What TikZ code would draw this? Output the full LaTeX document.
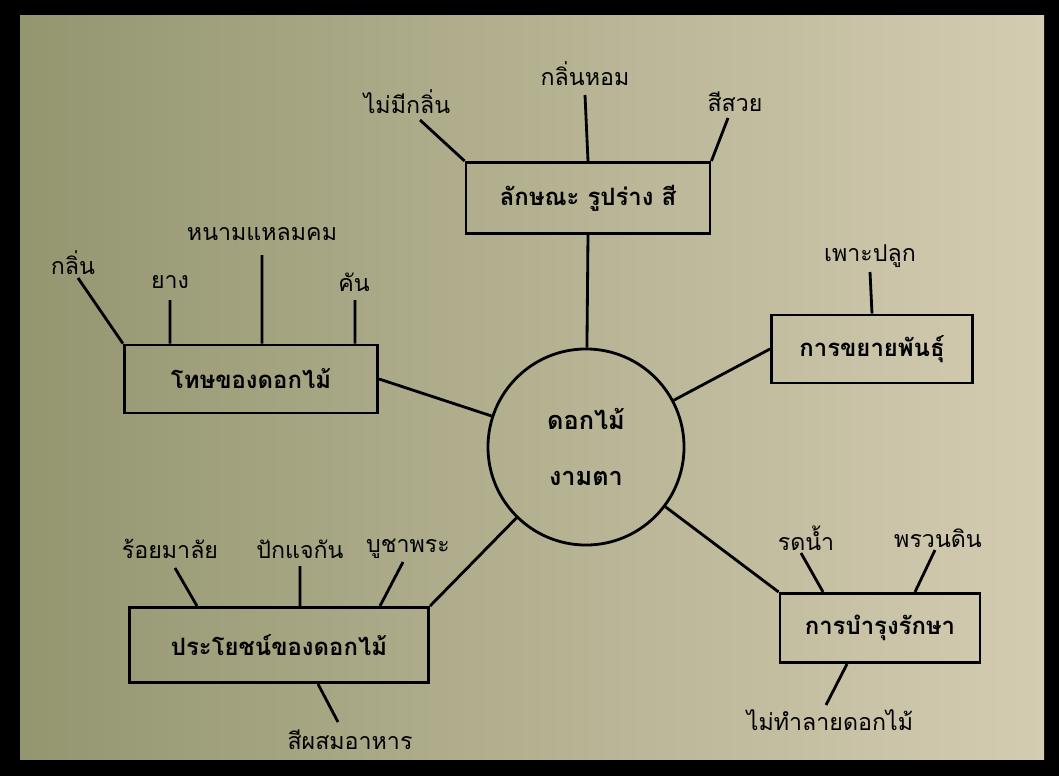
\documentclass[tikz,border=0pt]{standalone}
\usepackage{fontspec}
\newfontfamily\thaifont[Script=Thai]{Loma}
\usetikzlibrary{positioning}
\definecolor{paperL}{RGB}{148,150,112}
\definecolor{paperR}{RGB}{212,204,178}
\tikzset{
topic/.style={draw, line width=2pt, font=\thaifont\bfseries\fontsize{17}{20}\selectfont, inner sep=0pt},
hub/.style={draw, circle, line width=2pt, minimum size=4.9cm, align=center, font=\thaifont\bfseries\fontsize{18}{40}\selectfont},
leaf/.style={font=\thaifont\fontsize{16.5}{19}\selectfont, inner sep=1pt},
link/.style={line width=2pt}
}

\begin{document}
\begin{tikzpicture}[x=0.025cm,y=-0.025cm]
   \fill[black] (0,0) rectangle (1059,776);
   \shade[left color=paperL, right color=paperR] (20,15) rectangle (1044,759);
   \useasboundingbox (0,0) rectangle (1059,776);
   % centre
   \node[hub] (flower) at (586,447) {ดอกไม้\\งามตา};
   % boxes
   \node[topic, minimum width=6.1cm, minimum height=1.78cm] (look) at (588,198) {ลักษณะ รูปร่าง สี};
   \node[topic, minimum width=6.33cm, minimum height=1.7cm] (harm) at (251,379) {โทษของดอกไม้};
   \node[topic, minimum width=5.03cm, minimum height=1.7cm] (grow) at (872,349) {การขยายพันธุ์};
   \node[topic, minimum width=7.48cm, minimum height=1.88cm] (use) at (279,645) {ประโยชน์ของดอกไม้};
   \node[topic, minimum width=5cm, minimum height=1.73cm] (care) at (880,628) {การบำรุงรักษา};
   % free ends
   \coordinate (e1) at (420,120); \coordinate (e2) at (585,95); \coordinate (e3) at (728,118);
   \coordinate (e4) at (78,278); \coordinate (e5) at (170,300); \coordinate (e6) at (262,255); \coordinate (e7) at (355,300);
   \coordinate (e8) at (870,272);
   \coordinate (e9) at (175,568); \coordinate (e10) at (300,566); \coordinate (e11) at (403,562); \coordinate (e12) at (338,722);
   \coordinate (e13) at (801,553); \coordinate (e14) at (935,550); \coordinate (e15) at (826,705);
   % labels
   \node[leaf] (l1) at (407,102) {ไม่มีกลิ่น};
   \node[leaf] (l2) at (585,74) {กลิ่นหอม};
   \node[leaf] (l3) at (735,102) {สีสวย};
   \node[leaf] (l4) at (73,263) {กลิ่น};
   \node[leaf] (l5) at (170,282) {ยาง};
   \node[leaf] (l6) at (262,234) {หนามแหลมคม};
   \node[leaf] (l7) at (354,282) {คัน};
   \node[leaf] (l8) at (870,256) {เพาะปลูก};
   \node[leaf] (l9) at (170,549) {ร้อยมาลัย};
   \node[leaf] (l10) at (300,549) {ปักแจกัน};
   \node[leaf] (l11) at (408,549) {บูชาพระ};
   \node[leaf] (l12) at (350,740) {สีผสมอาหาร};
   \node[leaf] (l13) at (806,538) {รดน้ำ};
   \node[leaf] (l14) at (938,538) {พรวนดิน};
   \node[leaf] (l15) at (830,720) {ไม่ทำลายดอกไม้};
   % connectors
   \draw[link] (look.south) -- (flower);
   \draw[link] (harm.east) -- (flower);
   \draw[link] (grow.west) -- (flower);
   \draw[link] (use.north east) -- (flower);
   \draw[link] (care.north west) -- (flower);
   \draw[link] (look.north west) -- (e1) (look.north) -- (e2) (look.north east) -- (e3);
   \draw[link] (harm.north west) -- (e4) (harm.north west -| e5) -- (e5) (harm.north west -| e6) -- (e6) (harm.north west -| e7) -- (e7);
   \draw[link] (grow.north) -- (e8);
   \draw[link] (use.north west -| 197,0) -- (e9) (use.north west -| e10) -- (e10) (use.north west -| 380,0) -- (e11) (use.south west -| 318,0) -- (e12);
   \draw[link] (care.north west -| 823,0) -- (e13) (care.north west -| 915,0) -- (e14) (care.south west -| 847,0) -- (e15);
 \end{tikzpicture}
\end{document}
